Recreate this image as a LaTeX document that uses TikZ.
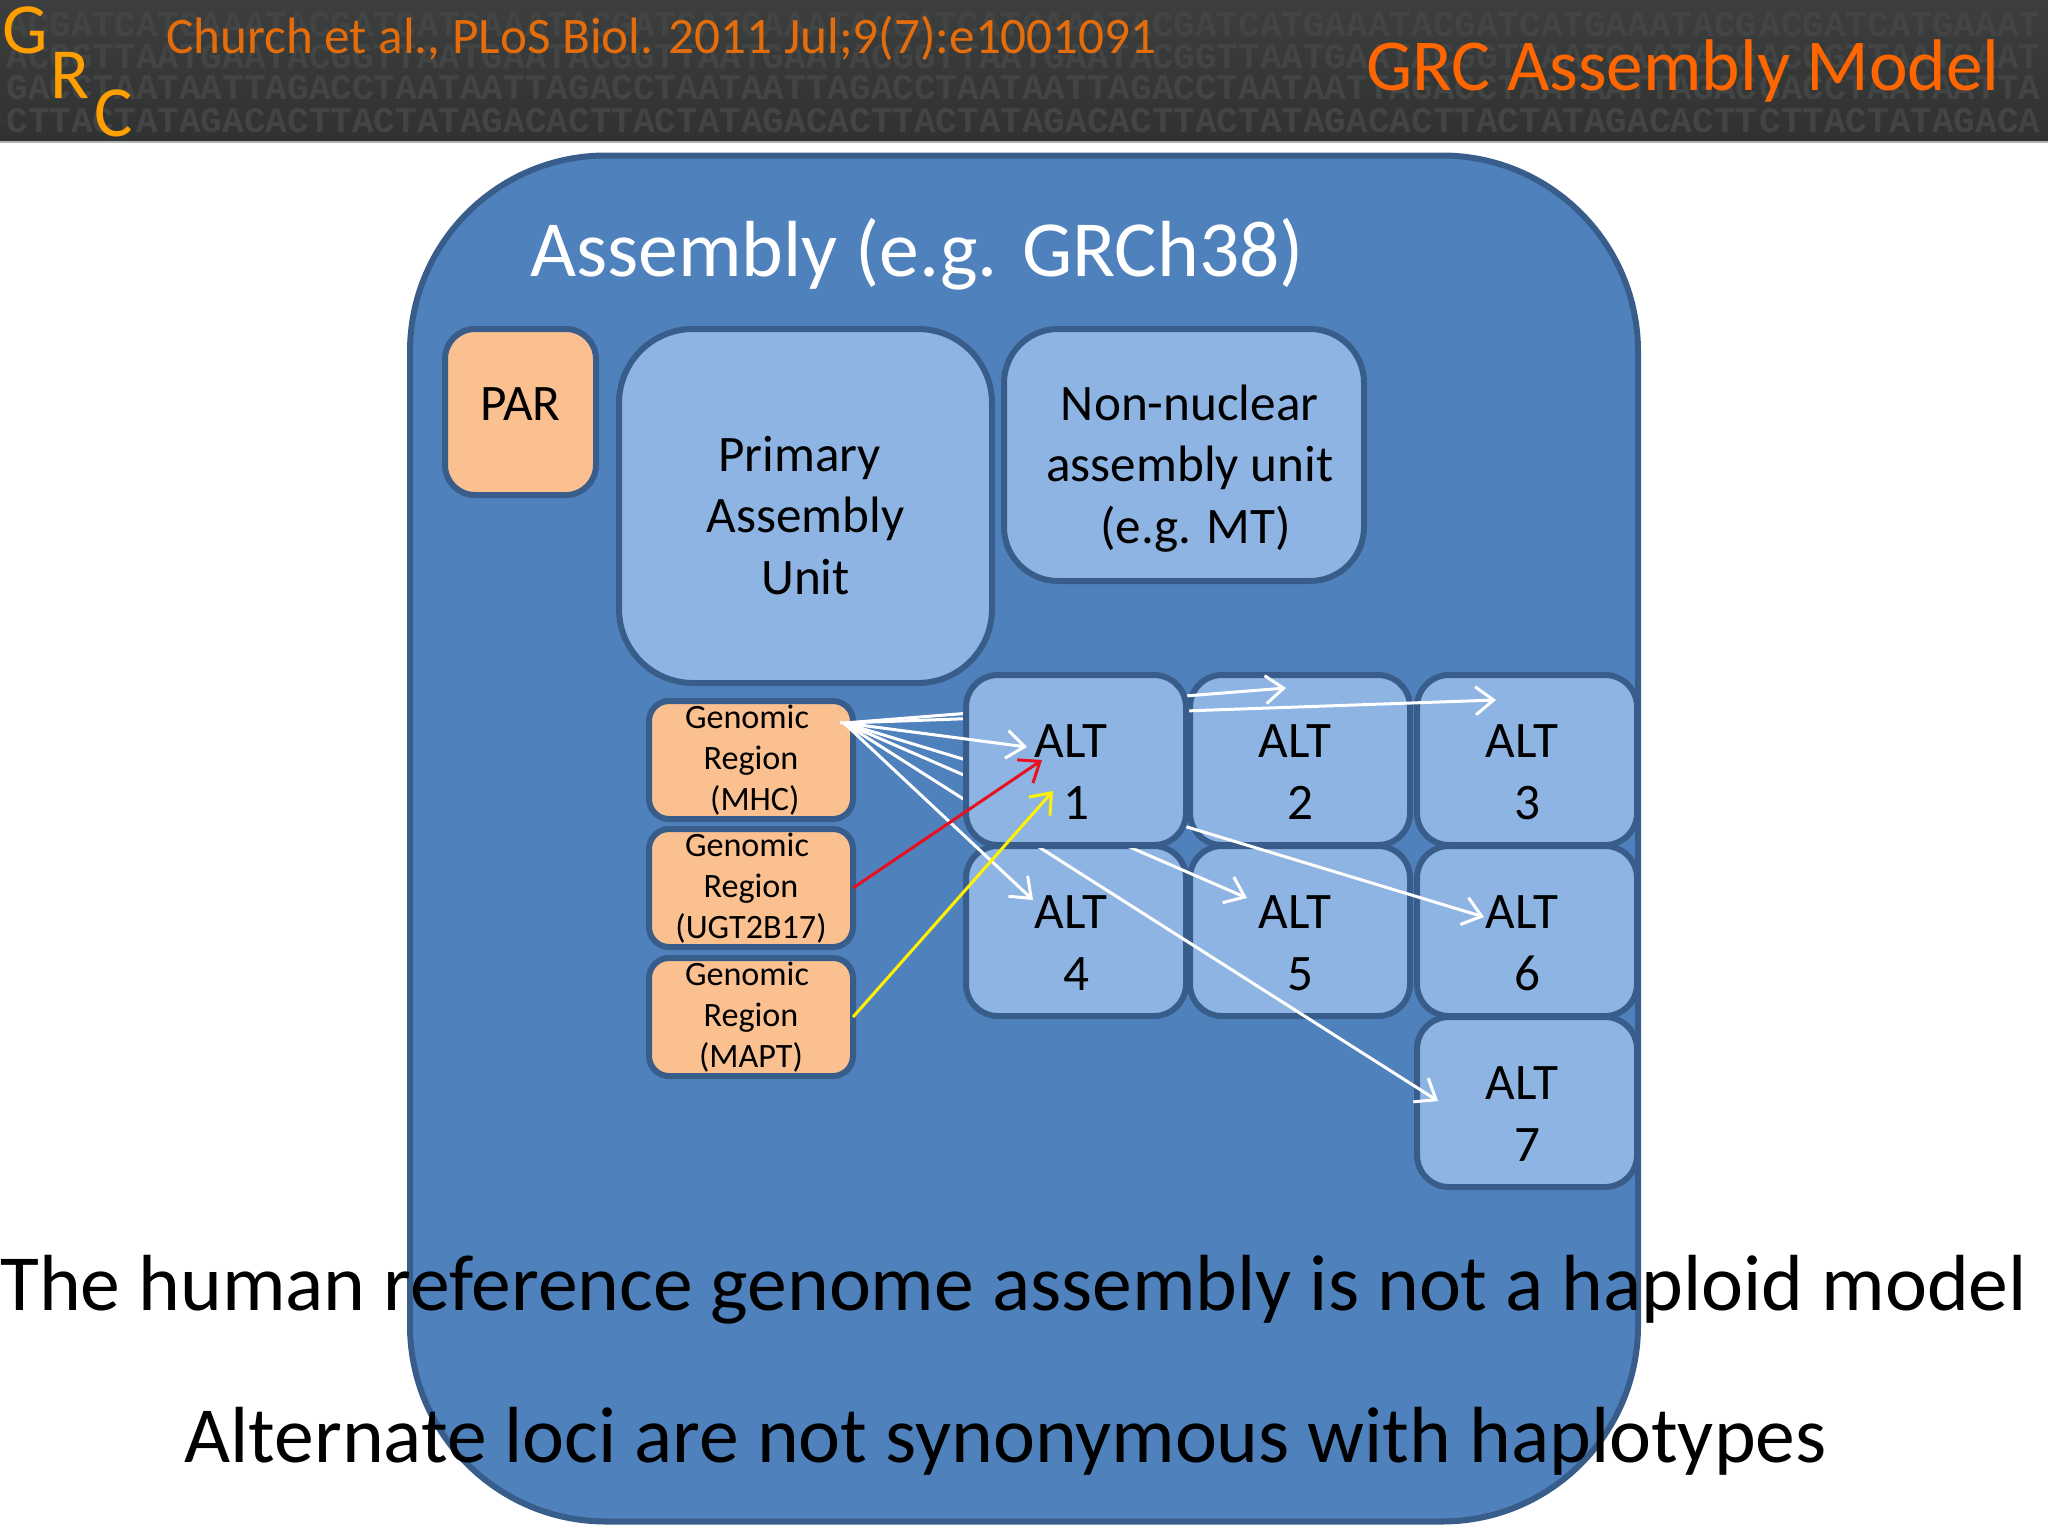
\documentclass[tikz,border=0pt]{standalone}
\usepackage{fontspec}
\setmainfont{Carlito}
\newfontfamily\dnafont{Liberation Mono}
\usetikzlibrary{arrows.meta}
\definecolor{headdark}{HTML}{303131}
\definecolor{headlight}{HTML}{3D3F3F}
\definecolor{dnagray}{HTML}{434545}
\definecolor{logoorange}{HTML}{FFA000}
\definecolor{citeorange}{HTML}{E46C0A}
\definecolor{titleorange}{HTML}{FF6600}
\definecolor{edgeblue}{HTML}{385D8A}
\definecolor{outerblue}{HTML}{4F81BD}
\definecolor{innerblue}{HTML}{8EB4E3}
\definecolor{peach}{HTML}{FAC090}
\definecolor{arrowred}{HTML}{E6101F}
\tikzset{
    unitbox/.style={draw=edgeblue, line width=3pt, fill=innerblue, align=center, inner sep=0pt,
        font=\fontsize{25.6}{30.7}\selectfont},
    altbox/.style={unitbox, minimum width=110pt, minimum height=85pt, rounded corners=16pt},
    regionbox/.style={unitbox, fill=peach, minimum width=102pt, minimum height=59pt, rounded corners=10pt,
        outer sep=0pt, font=\fontsize{17.07}{20.4}\selectfont},
    dnaletters/.style={dnagray, anchor=west, inner sep=0pt, font=\dnafont\bfseries\fontsize{18}{18}\selectfont},
    whitearrow/.style={white, line width=1.5pt, -{Straight Barb[length=9pt,width=14pt]}},
    logoletter/.style={logoorange, font=\fontsize{36}{36}\selectfont, inner sep=0pt},
    bigline/.style={font=\fontsize{39.8}{44}\selectfont, inner sep=0pt, anchor=west}
}
% pushes a label down inside its box
\newcommand{\pushdown}[1]{\rule{0pt}{#1}}

\begin{document}
\begin{tikzpicture}[x=0.5pt,y=-0.5pt]
    \useasboundingbox (0,0) rectangle (2048,1536);
    % Header band with the faint sequence letters:
    \fill[top color=headlight, bottom color=headdark] (0,0) rectangle (2048,141);
    \fill[gray!60] (0,141) rectangle (2048,143);
    \foreach \row/\y/\tile/\stub in {a/25/ACGATCATGAAAT/ACG, b/57/ACGGTTAATGAAT/ACG, c/88/GACCTAATAATTA/GAC, d/121/CTTACTATAGACA/CTT}{%
        \foreach \i in {0,...,5}{%
            \node[dnaletters] (dna\row\i) at (6+281*\i,\y) {\tile};
        }
        \node[dnaletters] (dna\row stub) at (1692,\y) {\stub};
        \node[dnaletters] (dna\row last) at (1759,\y) {\tile};
    }
    \node[logoletter] (logog) at (25,30) {G};
    \node[logoletter] (logor) at (70,75) {R};
    \node[logoletter] (logoc) at (114,113) {C};
    \node[citeorange, anchor=west, inner sep=0pt, font=\fontsize{25.6}{26}\selectfont] (cite) at (166,38)
        {Church et al., PLoS Biol. 2011 Jul;9(7):e1001091};
    \node[titleorange, anchor=east, inner sep=0pt, font=\fontsize{36.6}{37}\selectfont] (title) at (2000,71)
        {GRC Assembly Model};

    % Assembly and its units:
    \node[unitbox, fill=outerblue, minimum width=614pt, minimum height=683pt, rounded corners=98pt]
        (assembly) at (1024,838.5) {};
    \node[white, inner sep=0pt, font=\fontsize{39.8}{44}\selectfont] (assemblyname) at (917,254) {Assembly (e.g. GRCh38)};
    \node[unitbox, fill=peach, minimum width=75.5pt, minimum height=83pt, rounded corners=15pt] (par) at (520.5,412)
        {\rule[-7.8pt]{0pt}{1pt}PAR};
    \node[unitbox, minimum width=186.5pt, minimum height=177pt, rounded corners=37pt] (primary) at (805.5,506)
        {\pushdown{27pt}Primary\kern6pt\\Assembly\\Unit};
    \node[unitbox, minimum width=180pt, minimum height=126pt, rounded corners=27pt] (nonnuclear) at (1184,455)
        {\pushdown{31.2pt}~Non-nuclear\\~assembly unit\\~~(e.g. MT)};

    % Genomic regions:
    \node[regionbox] (mhc) at (751,760) {Genomic\kern4pt\\Region\\~(MHC)};
    \node[regionbox] (ugt) at (751,888) {Genomic\kern4pt\\Region\\(UGT2B17)};
    \node[regionbox] (mapt) at (751,1017) {Genomic\kern4pt\\Region\\(MAPT)};

    % ALT boxes, ALT 1 goes on top of the white arrows:
    \foreach \n/\x/\y in {2/1300/760, 3/1527/760, 4/1076/931, 5/1300/931, 6/1527/931, 7/1527/1102}{%
        \node[altbox] (alt\n) at (\x,\y) {\pushdown{28.6pt}ALT\kern5pt\\\n};
    }
    \coordinate (mhcport) at (844,723);
    \foreach \n/\x/\y in {2/1286/688, 3/1496/700, 4/1033/900, 5/1247/898, 6/1484/917, 7/1438/1101}{%
        \coordinate (tip\n) at (\x,\y);
        \draw[whitearrow] (mhcport) -- (tip\n);
    }
    \node[altbox] (alt1) at (1076,760) {\pushdown{28.6pt}ALT\kern5pt\\1};
    \coordinate (tip1) at (1027,747);
    \coordinate (tipred) at (1042,760);
    \coordinate (tipyellow) at (1053,791);
    \draw[whitearrow, shorten <=-2pt] (mhcport) -- (tip1);
    \draw[whitearrow, arrowred] (ugt.east) -- (tipred);
    \draw[whitearrow, yellow] (mapt.east) -- (tipyellow);

    % Closing statements:
    \node[bigline] (statementa) at (0,1290) {The human reference genome assembly is not a haploid model};
    \node[bigline] (statementb) at (184,1441) {Alternate loci are not synonymous with haplotypes};
\end{tikzpicture}
\end{document}
